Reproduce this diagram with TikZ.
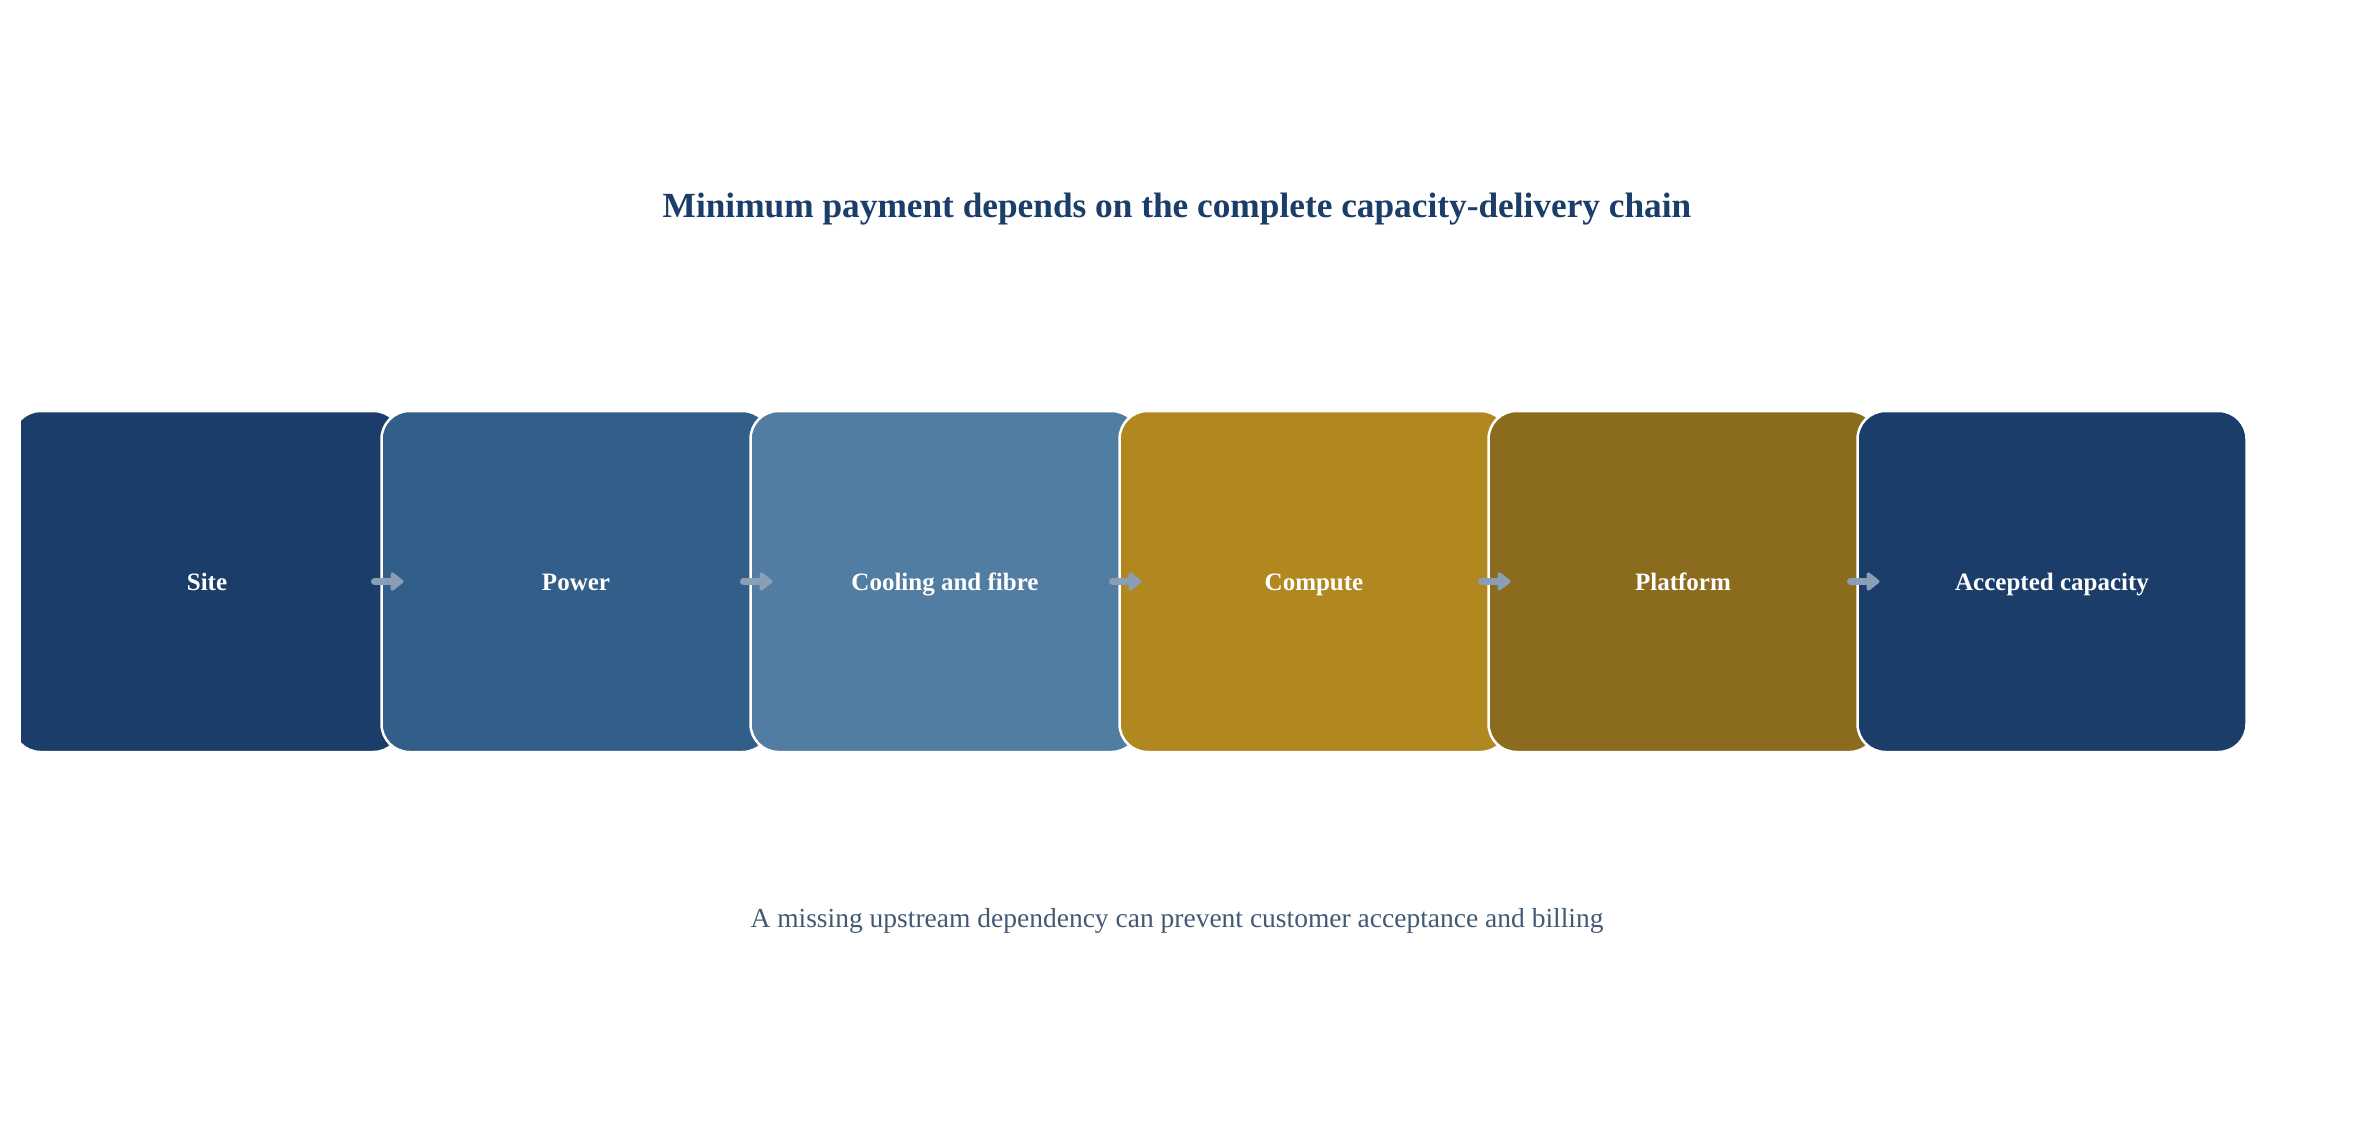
\documentclass[tikz,border=0pt]{standalone}
\usepackage{fontspec}
\setmainfont{Liberation Serif}
\usetikzlibrary{arrows.meta}
\definecolor{chainnavy}{HTML}{1A3D6A}
\definecolor{chainblue}{HTML}{325F8A}
\definecolor{chainsky}{HTML}{527DA3}
\definecolor{chaingold}{HTML}{B18820}
\definecolor{chainbronze}{HTML}{8B6B1E}
\definecolor{chainarrow}{HTML}{8A9FB5}
\definecolor{chainnote}{HTML}{425A75}

\begin{document}
\begin{tikzpicture}[
  x=1pt, y=-1pt,
  stage/.style={
    draw=white, line width=2.5pt, rounded corners=28pt,
    minimum width=389pt, minimum height=341pt, outer sep=0pt,
    text height=22pt, text depth=5pt,
    text=white, font=\fontsize{25}{30}\selectfont\bfseries
  },
  flow/.style={
    draw=chainarrow, line width=7pt, line cap=round,
    -{Triangle[round, length=14pt, width=21pt]}
  }
]
\useasboundingbox[fill=white] (0,0) rectangle (2354,1122);
\node[text=chainnavy, font=\fontsize{35.3}{42}\selectfont\bfseries] (title) at (1177,209)
  {Minimum payment depends on the complete capacity-delivery chain};
\begin{scope}
  \clip (21,0) rectangle (2354,1122);
  \node[stage, fill=chainnavy] (site) at (207,581.5) {Site};
\end{scope}
\node[stage, fill=chainblue] (power) at (576,581.5) {Power};
\node[stage, fill=chainsky] (cooling) at (945,581.5) {Cooling and fibre};
\node[stage, fill=chaingold] (compute) at (1314,581.5) {Compute};
\node[stage, fill=chainbronze] (platform) at (1683,581.5) {Platform};
\node[stage, fill=chainnavy] (accepted) at (2052,581.5) {Accepted capacity};
\draw[flow] ([xshift=-27pt]site.east) -- ([xshift=22pt]power.west);
\draw[flow] ([xshift=-27pt]power.east) -- ([xshift=22pt]cooling.west);
\draw[flow] ([xshift=-27pt]cooling.east) -- ([xshift=22pt]compute.west);
\draw[flow] ([xshift=-27pt]compute.east) -- ([xshift=22pt]platform.west);
\draw[flow] ([xshift=-27pt]platform.east) -- ([xshift=22pt]accepted.west);
\node[text=chainnote, font=\fontsize{27.5}{33}\selectfont] (note) at (1177,921)
  {A missing upstream dependency can prevent customer acceptance and billing};
\end{tikzpicture}
\end{document}
